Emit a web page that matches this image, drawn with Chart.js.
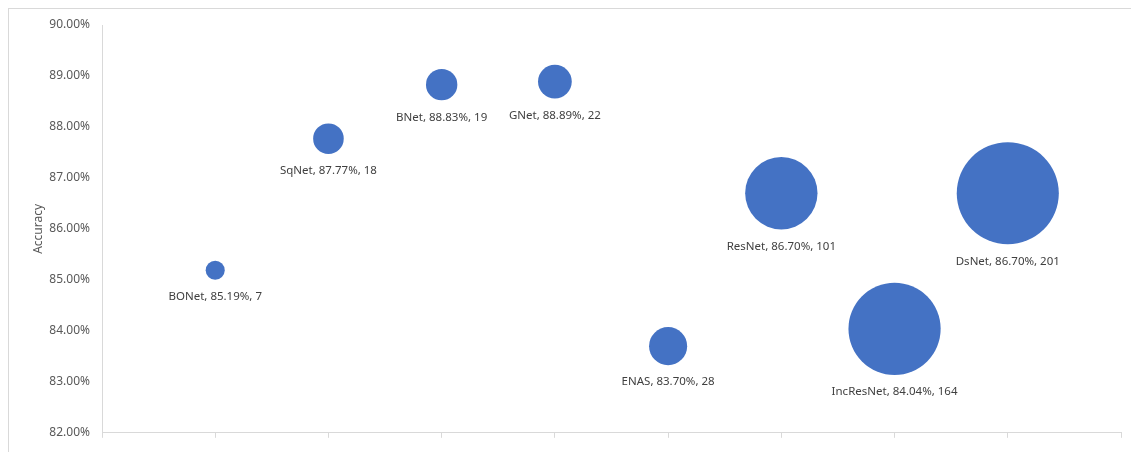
<!DOCTYPE html>
<html>
<head>
<meta charset="utf-8">
<script src="https://cdn.jsdelivr.net/npm/chart.js@4/dist/chart.umd.min.js"></script>
<style>
  html, body { margin: 0; padding: 0; background: #fff; }
  #wrap { position: relative; width: 1131px; height: 452px; overflow: hidden; }
  #frame { position: absolute; left: 8px; top: 8px; width: 1140px; height: 460px; border: 1px solid #d9d9d9; box-sizing: border-box; }
  canvas { position: absolute; left: 0; top: 0; }
</style>
</head>
<body>
<div id="wrap">
  <div id="frame"></div>
  <canvas id="chart" width="1131" height="452"></canvas>
</div>
<script>
// Data
const models = ['BONet', 'SqNet', 'BNet', 'GNet', 'ENAS', 'ResNet', 'IncResNet', 'DsNet'];
const positions = [1, 2, 3, 4, 5, 6, 7, 8];
const accuracy = [85.19, 87.77, 88.83, 88.89, 83.70, 86.70, 84.04, 86.70];
const sizes = [7, 18, 19, 22, 28, 101, 164, 201];

// Excel-like bubble scaling: area proportional to size
const bubbleScale = 3.6;

const FONT = '"Noto Sans", "Open Sans", sans-serif';

// don't let the big bubbles shrink the plot area
Chart.BubbleController.prototype.getMaxOverflow = function () { return 0; };

const bubbleLabels = {
  id: 'bubbleLabels',
  afterDatasetsDraw(chart) {
    const ctx = chart.ctx;
    const meta = chart.getDatasetMeta(0);
    ctx.save();
    ctx.font = '11.5px ' + FONT;
    ctx.fillStyle = '#404040';
    ctx.textAlign = 'center';
    ctx.textBaseline = 'middle';
    meta.data.forEach((el, i) => {
      const r = el.options.radius;
      const text = models[i] + ', ' + accuracy[i].toFixed(2) + '%, ' + sizes[i];
      ctx.fillText(text, el.x, el.y + r + 17);
    });
    ctx.restore();
  }
};

new Chart(document.getElementById('chart').getContext('2d'), {
  type: 'bubble',
  data: {
    datasets: [{
      data: positions.map((x, i) => ({ x: x, y: accuracy[i], r: bubbleScale * Math.sqrt(sizes[i]) })),
      backgroundColor: '#4472C4',
      borderWidth: 0,
      hoverBorderWidth: 0,
      clip: false
    }]
  },
  options: {
    responsive: false,
    animation: false,
    events: [],
    layout: { padding: { left: 27, top: 25, right: 10, bottom: 0 } },
    plugins: { legend: { display: false }, tooltip: { enabled: false } },
    scales: {
      x: {
        type: 'linear',
        min: 0,
        max: 9,
        ticks: { display: false, stepSize: 1 },
        grid: { drawOnChartArea: false, drawTicks: true, tickLength: 5, color: '#d9d9d9' },
        border: { color: '#d9d9d9' },
        afterFit(scale) { scale.height = 19; }
      },
      y: {
        type: 'linear',
        min: 82,
        max: 90,
        ticks: {
          stepSize: 1,
          padding: 12,
          color: '#595959',
          font: { family: FONT, size: 12 },
          callback: v => v.toFixed(2) + '%'
        },
        grid: { display: true, drawOnChartArea: false, drawTicks: false, color: '#d9d9d9' },
        border: { color: '#d9d9d9' },
        title: {
          display: true,
          text: 'Accuracy',
          color: '#595959',
          font: { family: FONT, size: 12 }
        },
        afterFit(scale) { scale.width = 75; }
      }
    }
  },
  plugins: [bubbleLabels]
});
</script>
</body>
</html>
